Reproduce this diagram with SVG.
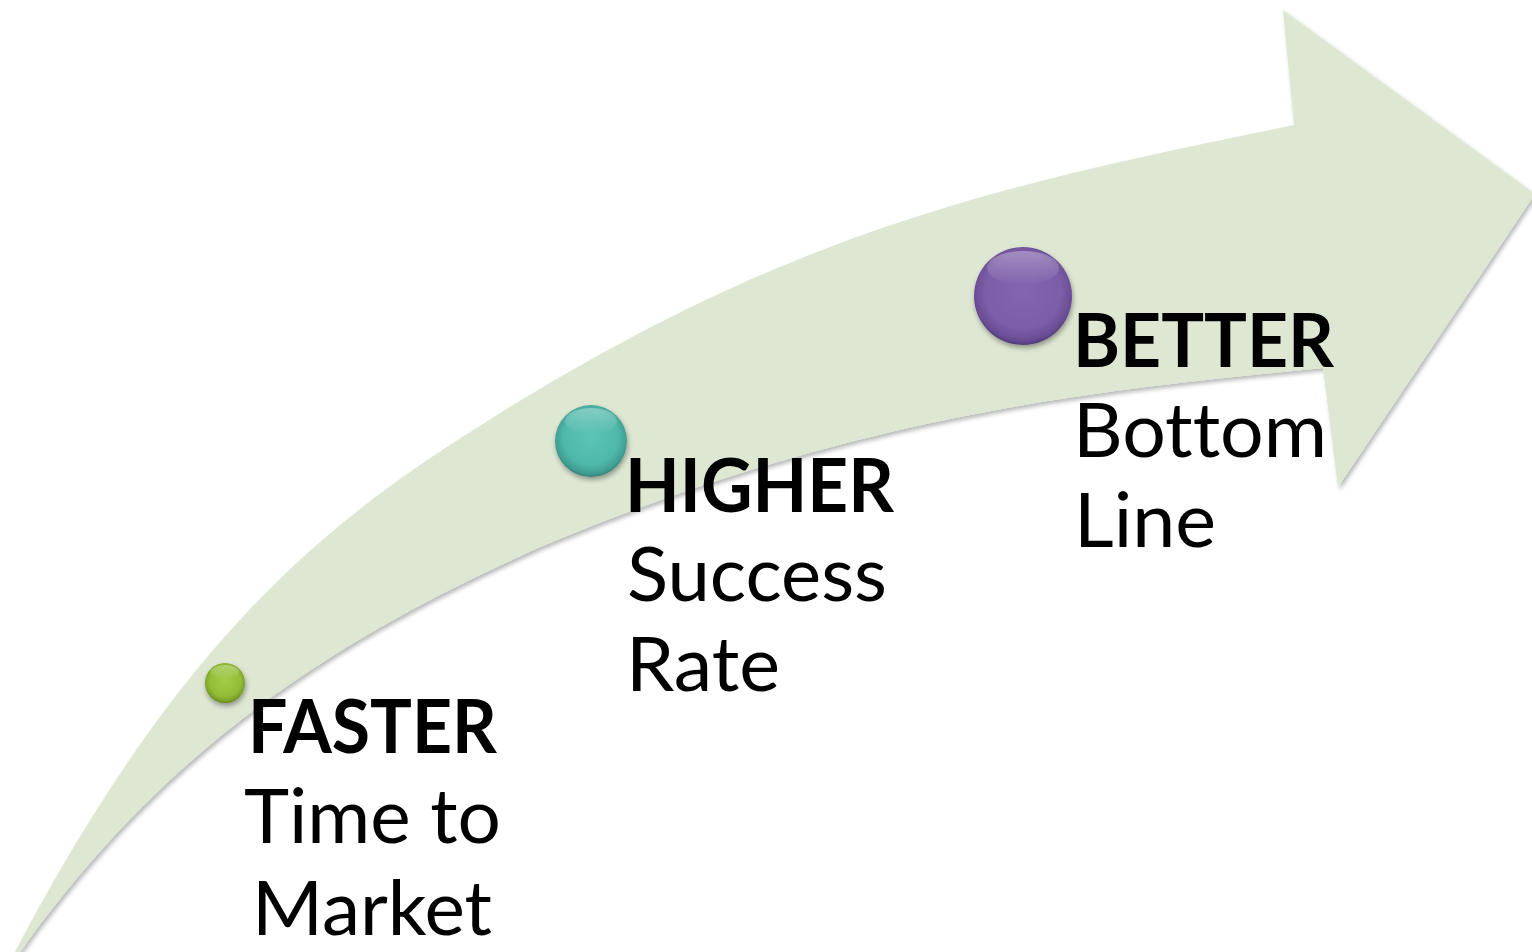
<svg xmlns="http://www.w3.org/2000/svg" width="1532" height="952" viewBox="0 0 1532 952">
  <style>
    .hdr { font-family: Lato, "Open Sans", "Liberation Sans", sans-serif; font-weight: 700; font-size: 75px; fill: #000; font-variant-ligatures: none; font-feature-settings: "liga" 0, "clig" 0; }
    .txt { font-family: Lato, "Open Sans", "Liberation Sans", sans-serif; font-weight: 400; font-size: 75px; fill: #000; font-variant-ligatures: none; font-feature-settings: "liga" 0, "clig" 0; }
    .arrow { fill: #DDE7D2; }
  </style>
  <defs>
    <filter id="arrowShadow" x="-5%" y="-5%" width="110%" height="115%">
      <feDropShadow dx="2" dy="3" stdDeviation="2" flood-color="#000" flood-opacity="0.28"/>
    </filter>
    <filter id="beadShadow" x="-30%" y="-30%" width="160%" height="170%">
      <feDropShadow dx="1" dy="3" stdDeviation="2.5" flood-color="#000" flood-opacity="0.35"/>
    </filter>
    <radialGradient id="gGreen" cx="50%" cy="45%" r="55%">
      <stop offset="0" stop-color="#A4CB48"/>
      <stop offset="0.7" stop-color="#93BD36"/>
      <stop offset="0.92" stop-color="#7AA22A"/>
      <stop offset="1" stop-color="#5E8219"/>
    </radialGradient>
    <radialGradient id="gTeal" cx="50%" cy="45%" r="55%">
      <stop offset="0" stop-color="#5CC4B6"/>
      <stop offset="0.7" stop-color="#4FB8AA"/>
      <stop offset="0.92" stop-color="#3F9C91"/>
      <stop offset="1" stop-color="#2E7F76"/>
    </radialGradient>
    <radialGradient id="gPurple" cx="50%" cy="45%" r="55%">
      <stop offset="0" stop-color="#8466B0"/>
      <stop offset="0.7" stop-color="#7C5EA8"/>
      <stop offset="0.92" stop-color="#694C93"/>
      <stop offset="1" stop-color="#513878"/>
    </radialGradient>
    <linearGradient id="gHi" x1="0" y1="0" x2="0" y2="1">
      <stop offset="0" stop-color="#fff" stop-opacity="0.3"/>
      <stop offset="1" stop-color="#fff" stop-opacity="0"/>
    </linearGradient>
  </defs>

  <g id="arrow">
    <path class="arrow" filter="url(#arrowShadow)" d="M -1,982 L 15,952 C 165,667 300,542.5 450,445 C 780,230.5 993,187 1294,125 L 1283,10 L 1535,194 L 1338,487 L 1323,368 C 1100,390 860,412.6 540,547 C 340,637 170,742 20,952 Z"/>
  </g>

  <g id="connectors"></g>

  <g id="node-faster">
    <circle cx="225" cy="683" r="20" fill="url(#gGreen)" filter="url(#beadShadow)"/>
    <ellipse cx="225" cy="672" rx="14" ry="7" fill="url(#gHi)"/>
    <text class="hdr" x="248" y="753" textLength="249" lengthAdjust="spacingAndGlyphs">FASTER</text>
    <text class="txt" x="244" y="843" textLength="257" lengthAdjust="spacingAndGlyphs">Time to</text>
    <text class="txt" x="252" y="935" textLength="240" lengthAdjust="spacingAndGlyphs">Market</text>
  </g>

  <g id="node-higher">
    <circle cx="591" cy="441" r="36" fill="url(#gTeal)" filter="url(#beadShadow)"/>
    <ellipse cx="591" cy="421" rx="26" ry="13" fill="url(#gHi)"/>
    <text class="hdr" x="625" y="512" textLength="269" lengthAdjust="spacingAndGlyphs">HIGHER</text>
    <text class="txt" x="627" y="601" textLength="260" lengthAdjust="spacingAndGlyphs">Success</text>
    <text class="txt" x="626" y="691" textLength="154" lengthAdjust="spacingAndGlyphs">Rate</text>
  </g>

  <g id="node-better">
    <circle cx="1023" cy="296" r="49" fill="url(#gPurple)" filter="url(#beadShadow)"/>
    <ellipse cx="1023" cy="268" rx="36" ry="17" fill="url(#gHi)"/>
    <text class="hdr" x="1073" y="367" textLength="261" lengthAdjust="spacingAndGlyphs">BETTER</text>
    <text class="txt" x="1073" y="457" textLength="254" lengthAdjust="spacingAndGlyphs">Bottom</text>
    <text class="txt" x="1074" y="547" textLength="142" lengthAdjust="spacingAndGlyphs">Line</text>
  </g>
</svg>
